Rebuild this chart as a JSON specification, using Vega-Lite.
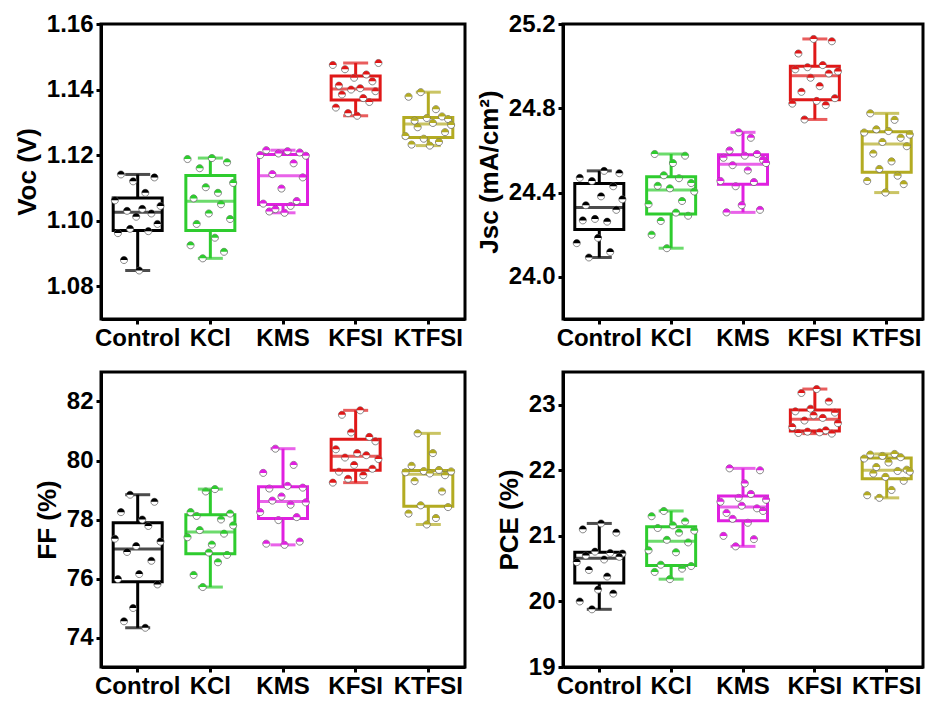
{
"$schema":"https://vega.github.io/schema/vega-lite/v6.json",
"background":"white",
"padding":{"left":12,"top":10,"right":3,"bottom":3},
"config":{
 "view":{"stroke":"black","strokeWidth":3},
 "axis":{"labelFont":"Liberation Sans","labelFontWeight":"bold","labelFontSize":24,"labelColor":"black","titleFont":"Liberation Sans","titleFontWeight":"bold","titleFontSize":26,"titleColor":"black","domainColor":"black","domainWidth":3,"tickColor":"black","tickWidth":3,"tickSize":5,"grid":false,"labelPadding":3},
 "axisX":{"labelAngle":0,"title":null,"labelPadding":2,"labelFlush":false,"labelOverlap":false},
 "axisY":{"titlePadding":6}
},
"datasets":{
"box":[
{"m":"Voc","g":"Control","lo":1.0848,"q1":1.097,"med":1.1026,"q3":1.1069,"hi":1.1141},
{"m":"Voc","g":"KCl","lo":1.0885,"q1":1.097,"med":1.1059,"q3":1.1138,"hi":1.1191},
{"m":"Voc","g":"KMS","lo":1.1024,"q1":1.1049,"med":1.1137,"q3":1.1202,"hi":1.1215},
{"m":"Voc","g":"KFSI","lo":1.132,"q1":1.1368,"med":1.1402,"q3":1.1441,"hi":1.1481},
{"m":"Voc","g":"KTFSI","lo":1.1229,"q1":1.1254,"med":1.1295,"q3":1.1315,"hi":1.1392},
{"m":"Jsc","g":"Control","lo":24.092,"q1":24.225,"med":24.329,"q3":24.443,"hi":24.503},
{"m":"Jsc","g":"KCl","lo":24.136,"q1":24.298,"med":24.412,"q3":24.475,"hi":24.583},
{"m":"Jsc","g":"KMS","lo":24.306,"q1":24.44,"med":24.535,"q3":24.579,"hi":24.686},
{"m":"Jsc","g":"KFSI","lo":24.747,"q1":24.841,"med":24.955,"q3":25.0,"hi":25.129},
{"m":"Jsc","g":"KTFSI","lo":24.4,"q1":24.496,"med":24.63,"q3":24.689,"hi":24.776},
{"m":"FF","g":"Control","lo":74.33,"q1":75.89,"med":77.0,"q3":77.89,"hi":78.84},
{"m":"FF","g":"KCl","lo":75.71,"q1":76.84,"med":77.58,"q3":78.16,"hi":79.03},
{"m":"FF","g":"KMS","lo":77.14,"q1":78.03,"med":78.61,"q3":79.11,"hi":80.4},
{"m":"FF","g":"KFSI","lo":79.25,"q1":79.67,"med":80.14,"q3":80.72,"hi":81.7},
{"m":"FF","g":"KTFSI","lo":77.83,"q1":78.45,"med":79.53,"q3":79.66,"hi":80.92},
{"m":"PCE","g":"Control","lo":19.88,"q1":20.28,"med":20.66,"q3":20.75,"hi":21.19},
{"m":"PCE","g":"KCl","lo":20.34,"q1":20.55,"med":20.92,"q3":21.14,"hi":21.38},
{"m":"PCE","g":"KMS","lo":20.84,"q1":21.23,"med":21.44,"q3":21.61,"hi":22.03},
{"m":"PCE","g":"KFSI","lo":22.56,"q1":22.6,"med":22.78,"q3":22.92,"hi":23.24},
{"m":"PCE","g":"KTFSI","lo":21.58,"q1":21.87,"med":22.0,"q3":22.19,"hi":22.25}
],
"pts":[
{"g":"Control","n":1,"Voc":1.1062,"Jsc":24.160,"FF":77.35,"PCE":20.60},
{"g":"Control","n":2,"Voc":1.0962,"Jsc":24.470,"FF":75.98,"PCE":20.00},
{"g":"Control","n":3,"Voc":1.1141,"Jsc":24.268,"FF":78.25,"PCE":21.10},
{"g":"Control","n":4,"Voc":1.0880,"Jsc":24.340,"FF":74.55,"PCE":20.70},
{"g":"Control","n":5,"Voc":1.1030,"Jsc":24.092,"FF":76.90,"PCE":20.48},
{"g":"Control","n":6,"Voc":1.0975,"Jsc":24.455,"FF":78.84,"PCE":19.88},
{"g":"Control","n":7,"Voc":1.1120,"Jsc":24.275,"FF":75.00,"PCE":20.76},
{"g":"Control","n":8,"Voc":1.1012,"Jsc":24.185,"FF":77.10,"PCE":20.18},
{"g":"Control","n":9,"Voc":1.0848,"Jsc":24.382,"FF":76.15,"PCE":21.19},
{"g":"Control","n":10,"Voc":1.1036,"Jsc":24.503,"FF":78.00,"PCE":20.64},
{"g":"Control","n":11,"Voc":1.1085,"Jsc":24.262,"FF":74.33,"PCE":20.38},
{"g":"Control","n":12,"Voc":1.0968,"Jsc":24.118,"FF":77.78,"PCE":20.74},
{"g":"Control","n":13,"Voc":1.1022,"Jsc":24.430,"FF":76.60,"PCE":20.12},
{"g":"Control","n":14,"Voc":1.1132,"Jsc":24.318,"FF":78.60,"PCE":21.05},
{"g":"Control","n":15,"Voc":1.0990,"Jsc":24.492,"FF":75.80,"PCE":20.68},
{"g":"Control","n":16,"Voc":1.1045,"Jsc":24.368,"FF":77.25,"PCE":20.73},
{"g":"KCl","n":1,"Voc":1.1188,"Jsc":24.345,"FF":77.40,"PCE":20.78},
{"g":"KCl","n":2,"Voc":1.0925,"Jsc":24.200,"FF":78.25,"PCE":21.30},
{"g":"KCl","n":3,"Voc":1.1068,"Jsc":24.583,"FF":76.12,"PCE":20.45},
{"g":"KCl","n":4,"Voc":1.0990,"Jsc":24.432,"FF":78.12,"PCE":21.12},
{"g":"KCl","n":5,"Voc":1.1160,"Jsc":24.265,"FF":77.64,"PCE":20.56},
{"g":"KCl","n":6,"Voc":1.0885,"Jsc":24.482,"FF":75.71,"PCE":21.38},
{"g":"KCl","n":7,"Voc":1.1102,"Jsc":24.136,"FF":78.95,"PCE":20.94},
{"g":"KCl","n":8,"Voc":1.1022,"Jsc":24.420,"FF":76.88,"PCE":20.34},
{"g":"KCl","n":9,"Voc":1.1191,"Jsc":24.540,"FF":77.15,"PCE":21.16},
{"g":"KCl","n":10,"Voc":1.0948,"Jsc":24.305,"FF":79.03,"PCE":20.75},
{"g":"KCl","n":11,"Voc":1.1085,"Jsc":24.468,"FF":76.55,"PCE":21.05},
{"g":"KCl","n":12,"Voc":1.1050,"Jsc":24.360,"FF":78.00,"PCE":20.50},
{"g":"KCl","n":13,"Voc":1.0905,"Jsc":24.575,"FF":77.52,"PCE":21.22},
{"g":"KCl","n":14,"Voc":1.1178,"Jsc":24.290,"FF":76.80,"PCE":20.90},
{"g":"KCl","n":15,"Voc":1.1005,"Jsc":24.445,"FF":78.20,"PCE":20.54},
{"g":"KCl","n":16,"Voc":1.1115,"Jsc":24.405,"FF":77.80,"PCE":21.08},
{"g":"KMS","n":1,"Voc":1.1200,"Jsc":24.455,"FF":78.25,"PCE":21.52},
{"g":"KMS","n":2,"Voc":1.1052,"Jsc":24.565,"FF":79.58,"PCE":21.00},
{"g":"KMS","n":3,"Voc":1.1215,"Jsc":24.306,"FF":77.18,"PCE":21.35},
{"g":"KMS","n":4,"Voc":1.1028,"Jsc":24.600,"FF":79.05,"PCE":22.03},
{"g":"KMS","n":5,"Voc":1.1142,"Jsc":24.530,"FF":78.64,"PCE":21.26},
{"g":"KMS","n":6,"Voc":1.1035,"Jsc":24.430,"FF":80.40,"PCE":20.84},
{"g":"KMS","n":7,"Voc":1.1205,"Jsc":24.686,"FF":77.98,"PCE":21.58},
{"g":"KMS","n":8,"Voc":1.1098,"Jsc":24.340,"FF":78.78,"PCE":21.46},
{"g":"KMS","n":9,"Voc":1.1024,"Jsc":24.575,"FF":77.14,"PCE":21.80},
{"g":"KMS","n":10,"Voc":1.1212,"Jsc":24.505,"FF":79.14,"PCE":21.20},
{"g":"KMS","n":11,"Voc":1.1045,"Jsc":24.660,"FF":78.50,"PCE":21.64},
{"g":"KMS","n":12,"Voc":1.1175,"Jsc":24.450,"FF":79.85,"PCE":20.95},
{"g":"KMS","n":13,"Voc":1.1060,"Jsc":24.583,"FF":78.08,"PCE":21.42},
{"g":"KMS","n":14,"Voc":1.1208,"Jsc":24.318,"FF":77.25,"PCE":22.00},
{"g":"KMS","n":15,"Voc":1.1132,"Jsc":24.555,"FF":79.08,"PCE":21.38},
{"g":"KMS","n":16,"Voc":1.1198,"Jsc":24.540,"FF":78.58,"PCE":21.55},
{"g":"KFSI","n":1,"Voc":1.1475,"Jsc":24.822,"FF":79.25,"PCE":22.66},
{"g":"KFSI","n":2,"Voc":1.1345,"Jsc":24.985,"FF":80.38,"PCE":22.90},
{"g":"KFSI","n":3,"Voc":1.1412,"Jsc":25.060,"FF":79.62,"PCE":22.57},
{"g":"KFSI","n":4,"Voc":1.1385,"Jsc":24.878,"FF":81.55,"PCE":23.18},
{"g":"KFSI","n":5,"Voc":1.1462,"Jsc":24.747,"FF":80.10,"PCE":22.76},
{"g":"KFSI","n":6,"Voc":1.1328,"Jsc":24.995,"FF":79.38,"PCE":22.59},
{"g":"KFSI","n":7,"Voc":1.1400,"Jsc":24.945,"FF":80.95,"PCE":22.94},
{"g":"KFSI","n":8,"Voc":1.1436,"Jsc":25.129,"FF":79.85,"PCE":22.84},
{"g":"KFSI","n":9,"Voc":1.1320,"Jsc":24.835,"FF":80.25,"PCE":23.24},
{"g":"KFSI","n":10,"Voc":1.1404,"Jsc":24.905,"FF":81.70,"PCE":22.58},
{"g":"KFSI","n":11,"Voc":1.1374,"Jsc":25.005,"FF":79.50,"PCE":22.80},
{"g":"KFSI","n":12,"Voc":1.1446,"Jsc":24.815,"FF":80.18,"PCE":22.61},
{"g":"KFSI","n":13,"Voc":1.1362,"Jsc":24.965,"FF":80.80,"PCE":23.05},
{"g":"KFSI","n":14,"Voc":1.1425,"Jsc":25.118,"FF":79.72,"PCE":22.56},
{"g":"KFSI","n":15,"Voc":1.1395,"Jsc":24.848,"FF":80.65,"PCE":22.88},
{"g":"KFSI","n":16,"Voc":1.1481,"Jsc":24.975,"FF":80.05,"PCE":22.72},
{"g":"KTFSI","n":1,"Voc":1.1258,"Jsc":24.685,"FF":79.60,"PCE":22.18},
{"g":"KTFSI","n":2,"Voc":1.1378,"Jsc":24.455,"FF":78.20,"PCE":21.62},
{"g":"KTFSI","n":3,"Voc":1.1232,"Jsc":24.776,"FF":79.82,"PCE":22.24},
{"g":"KTFSI","n":4,"Voc":1.1305,"Jsc":24.585,"FF":79.30,"PCE":21.95},
{"g":"KTFSI","n":5,"Voc":1.1285,"Jsc":24.700,"FF":80.92,"PCE":22.05},
{"g":"KTFSI","n":6,"Voc":1.1392,"Jsc":24.512,"FF":78.48,"PCE":21.58},
{"g":"KTFSI","n":7,"Voc":1.1250,"Jsc":24.640,"FF":79.64,"PCE":22.22},
{"g":"KTFSI","n":8,"Voc":1.1313,"Jsc":24.400,"FF":77.83,"PCE":21.90},
{"g":"KTFSI","n":9,"Voc":1.1229,"Jsc":24.692,"FF":79.56,"PCE":22.12},
{"g":"KTFSI","n":10,"Voc":1.1298,"Jsc":24.548,"FF":80.25,"PCE":21.70},
{"g":"KTFSI","n":11,"Voc":1.1340,"Jsc":24.745,"FF":78.05,"PCE":22.25},
{"g":"KTFSI","n":12,"Voc":1.1240,"Jsc":24.480,"FF":79.68,"PCE":21.99},
{"g":"KTFSI","n":13,"Voc":1.1318,"Jsc":24.660,"FF":78.95,"PCE":22.20},
{"g":"KTFSI","n":14,"Voc":1.1270,"Jsc":24.440,"FF":79.50,"PCE":21.84},
{"g":"KTFSI","n":15,"Voc":1.1310,"Jsc":24.620,"FF":78.42,"PCE":22.01},
{"g":"KTFSI","n":16,"Voc":1.1292,"Jsc":24.675,"FF":79.63,"PCE":21.98}
]
},
"columns":2,
"spacing":{"row":18,"column":7},
"concat":[
{"width":364,"height":295,
 "encoding":{"x":{"field":"g","type":"nominal","scale":{"type":"band","domain":["Control","KCl","KMS","KFSI","KTFSI"],"paddingInner":0.33,"paddingOuter":0.17}}},
 "layer":[
  {"data":{"name":"box"},"transform":[{"filter":"datum.m==='Voc'"}],"mark":{"type":"rule","strokeWidth":3},
   "encoding":{"y":{"field":"lo","type":"quantitative","scale":{"domain":[1.07,1.16],"nice":false,"zero":false},"axis":{"title":"Voc (V)","values":[1.08,1.10,1.12,1.14,1.16],"format":".2f"}},"y2":{"field":"hi"},
   "color":{"field":"g","type":"nominal","scale":{"domain":["Control","KCl","KMS","KFSI","KTFSI"],"range":["#000000","#2ecc2e","#e020e0","#e01818","#b3ab22"]},"legend":null}}},
  {"data":{"name":"box"},"transform":[{"filter":"datum.m==='Voc'"}],"mark":{"type":"bar","fill":"white","strokeWidth":3,"width":49},
   "encoding":{"y":{"field":"q1","type":"quantitative","scale":{"domain":[1.07,1.16],"nice":false,"zero":false}},"y2":{"field":"q3"},
   "stroke":{"field":"g","type":"nominal","scale":{"domain":["Control","KCl","KMS","KFSI","KTFSI"],"range":["#000000","#2ecc2e","#e020e0","#e01818","#b3ab22"]},"legend":null}}},
  {"data":{"name":"box"},"transform":[{"filter":"datum.m==='Voc'"}],"mark":{"type":"tick","thickness":3,"size":25},
   "encoding":{"y":{"field":"lo","type":"quantitative","scale":{"domain":[1.07,1.16],"nice":false,"zero":false}},"color":{"field":"g","type":"nominal","legend":null}}},
  {"data":{"name":"box"},"transform":[{"filter":"datum.m==='Voc'"}],"mark":{"type":"tick","thickness":3,"size":25},
   "encoding":{"y":{"field":"hi","type":"quantitative","scale":{"domain":[1.07,1.16],"nice":false,"zero":false}},"color":{"field":"g","type":"nominal","legend":null}}},
  {"data":{"name":"box"},"transform":[{"filter":"datum.m==='Voc'"}],"mark":{"type":"tick","thickness":3,"size":49},
   "encoding":{"y":{"field":"med","type":"quantitative","scale":{"domain":[1.07,1.16],"nice":false,"zero":false}},"color":{"field":"g","type":"nominal","legend":null}}},
  {"data":{"name":"pts"},"mark":{"type":"point","shape":"M-1,0A1,1,0,1,1,1,0A1,1,0,1,1,-1,0Z","filled":true,"fill":"white","stroke":"#555555","strokeWidth":0.7,"size":50,"opacity":1},
   "encoding":{"xOffset":{"field":"n","type":"ordinal"},"y":{"field":"Voc","type":"quantitative","scale":{"domain":[1.07,1.16],"nice":false,"zero":false}}}},
  {"data":{"name":"pts"},"mark":{"type":"point","shape":"M-1,0A1,1,0,0,1,1,0Z","filled":true,"size":50,"opacity":1,"strokeWidth":0},
   "encoding":{"xOffset":{"field":"n","type":"ordinal"},"y":{"field":"Voc","type":"quantitative","scale":{"domain":[1.07,1.16],"nice":false,"zero":false}},"color":{"field":"g","type":"nominal","legend":null}}}
 ]},
{"width":360,"height":295,
 "encoding":{"x":{"field":"g","type":"nominal","scale":{"type":"band","domain":["Control","KCl","KMS","KFSI","KTFSI"],"paddingInner":0.33,"paddingOuter":0.17}}},
 "layer":[
  {"data":{"name":"box"},"transform":[{"filter":"datum.m==='Jsc'"}],"mark":{"type":"rule","strokeWidth":3},
   "encoding":{"y":{"field":"lo","type":"quantitative","scale":{"domain":[23.8,25.2],"nice":false,"zero":false},"axis":{"title":"Jsc (mA/cm²)","values":[24.0,24.4,24.8,25.2],"format":".1f"}},"y2":{"field":"hi"},
   "color":{"field":"g","type":"nominal","scale":{"domain":["Control","KCl","KMS","KFSI","KTFSI"],"range":["#000000","#2ecc2e","#e020e0","#e01818","#b3ab22"]},"legend":null}}},
  {"data":{"name":"box"},"transform":[{"filter":"datum.m==='Jsc'"}],"mark":{"type":"bar","fill":"white","strokeWidth":3,"width":49},
   "encoding":{"y":{"field":"q1","type":"quantitative","scale":{"domain":[23.8,25.2],"nice":false,"zero":false}},"y2":{"field":"q3"},
   "stroke":{"field":"g","type":"nominal","scale":{"domain":["Control","KCl","KMS","KFSI","KTFSI"],"range":["#000000","#2ecc2e","#e020e0","#e01818","#b3ab22"]},"legend":null}}},
  {"data":{"name":"box"},"transform":[{"filter":"datum.m==='Jsc'"}],"mark":{"type":"tick","thickness":3,"size":25},
   "encoding":{"y":{"field":"lo","type":"quantitative","scale":{"domain":[23.8,25.2],"nice":false,"zero":false}},"color":{"field":"g","type":"nominal","legend":null}}},
  {"data":{"name":"box"},"transform":[{"filter":"datum.m==='Jsc'"}],"mark":{"type":"tick","thickness":3,"size":25},
   "encoding":{"y":{"field":"hi","type":"quantitative","scale":{"domain":[23.8,25.2],"nice":false,"zero":false}},"color":{"field":"g","type":"nominal","legend":null}}},
  {"data":{"name":"box"},"transform":[{"filter":"datum.m==='Jsc'"}],"mark":{"type":"tick","thickness":3,"size":49},
   "encoding":{"y":{"field":"med","type":"quantitative","scale":{"domain":[23.8,25.2],"nice":false,"zero":false}},"color":{"field":"g","type":"nominal","legend":null}}},
  {"data":{"name":"pts"},"mark":{"type":"point","shape":"M-1,0A1,1,0,1,1,1,0A1,1,0,1,1,-1,0Z","filled":true,"fill":"white","stroke":"#555555","strokeWidth":0.7,"size":50,"opacity":1},
   "encoding":{"xOffset":{"field":"n","type":"ordinal"},"y":{"field":"Jsc","type":"quantitative","scale":{"domain":[23.8,25.2],"nice":false,"zero":false}}}},
  {"data":{"name":"pts"},"mark":{"type":"point","shape":"M-1,0A1,1,0,0,1,1,0Z","filled":true,"size":50,"opacity":1,"strokeWidth":0},
   "encoding":{"xOffset":{"field":"n","type":"ordinal"},"y":{"field":"Jsc","type":"quantitative","scale":{"domain":[23.8,25.2],"nice":false,"zero":false}},"color":{"field":"g","type":"nominal","legend":null}}}
 ]},
{"width":364,"height":295,
 "encoding":{"x":{"field":"g","type":"nominal","scale":{"type":"band","domain":["Control","KCl","KMS","KFSI","KTFSI"],"paddingInner":0.33,"paddingOuter":0.17}}},
 "layer":[
  {"data":{"name":"box"},"transform":[{"filter":"datum.m==='FF'"}],"mark":{"type":"rule","strokeWidth":3},
   "encoding":{"y":{"field":"lo","type":"quantitative","scale":{"domain":[73,83],"nice":false,"zero":false},"axis":{"title":"FF (%)","values":[74,76,78,80,82],"format":"d"}},"y2":{"field":"hi"},
   "color":{"field":"g","type":"nominal","scale":{"domain":["Control","KCl","KMS","KFSI","KTFSI"],"range":["#000000","#2ecc2e","#e020e0","#e01818","#b3ab22"]},"legend":null}}},
  {"data":{"name":"box"},"transform":[{"filter":"datum.m==='FF'"}],"mark":{"type":"bar","fill":"white","strokeWidth":3,"width":49},
   "encoding":{"y":{"field":"q1","type":"quantitative","scale":{"domain":[73,83],"nice":false,"zero":false}},"y2":{"field":"q3"},
   "stroke":{"field":"g","type":"nominal","scale":{"domain":["Control","KCl","KMS","KFSI","KTFSI"],"range":["#000000","#2ecc2e","#e020e0","#e01818","#b3ab22"]},"legend":null}}},
  {"data":{"name":"box"},"transform":[{"filter":"datum.m==='FF'"}],"mark":{"type":"tick","thickness":3,"size":25},
   "encoding":{"y":{"field":"lo","type":"quantitative","scale":{"domain":[73,83],"nice":false,"zero":false}},"color":{"field":"g","type":"nominal","legend":null}}},
  {"data":{"name":"box"},"transform":[{"filter":"datum.m==='FF'"}],"mark":{"type":"tick","thickness":3,"size":25},
   "encoding":{"y":{"field":"hi","type":"quantitative","scale":{"domain":[73,83],"nice":false,"zero":false}},"color":{"field":"g","type":"nominal","legend":null}}},
  {"data":{"name":"box"},"transform":[{"filter":"datum.m==='FF'"}],"mark":{"type":"tick","thickness":3,"size":49},
   "encoding":{"y":{"field":"med","type":"quantitative","scale":{"domain":[73,83],"nice":false,"zero":false}},"color":{"field":"g","type":"nominal","legend":null}}},
  {"data":{"name":"pts"},"mark":{"type":"point","shape":"M-1,0A1,1,0,1,1,1,0A1,1,0,1,1,-1,0Z","filled":true,"fill":"white","stroke":"#555555","strokeWidth":0.7,"size":50,"opacity":1},
   "encoding":{"xOffset":{"field":"n","type":"ordinal"},"y":{"field":"FF","type":"quantitative","scale":{"domain":[73,83],"nice":false,"zero":false}}}},
  {"data":{"name":"pts"},"mark":{"type":"point","shape":"M-1,0A1,1,0,0,1,1,0Z","filled":true,"size":50,"opacity":1,"strokeWidth":0},
   "encoding":{"xOffset":{"field":"n","type":"ordinal"},"y":{"field":"FF","type":"quantitative","scale":{"domain":[73,83],"nice":false,"zero":false}},"color":{"field":"g","type":"nominal","legend":null}}}
 ]},
{"width":360,"height":295,
 "encoding":{"x":{"field":"g","type":"nominal","scale":{"type":"band","domain":["Control","KCl","KMS","KFSI","KTFSI"],"paddingInner":0.33,"paddingOuter":0.17}}},
 "layer":[
  {"data":{"name":"box"},"transform":[{"filter":"datum.m==='PCE'"}],"mark":{"type":"rule","strokeWidth":3},
   "encoding":{"y":{"field":"lo","type":"quantitative","scale":{"domain":[19,23.5],"nice":false,"zero":false},"axis":{"title":"PCE (%)","values":[19,20,21,22,23],"format":"d"}},"y2":{"field":"hi"},
   "color":{"field":"g","type":"nominal","scale":{"domain":["Control","KCl","KMS","KFSI","KTFSI"],"range":["#000000","#2ecc2e","#e020e0","#e01818","#b3ab22"]},"legend":null}}},
  {"data":{"name":"box"},"transform":[{"filter":"datum.m==='PCE'"}],"mark":{"type":"bar","fill":"white","strokeWidth":3,"width":49},
   "encoding":{"y":{"field":"q1","type":"quantitative","scale":{"domain":[19,23.5],"nice":false,"zero":false}},"y2":{"field":"q3"},
   "stroke":{"field":"g","type":"nominal","scale":{"domain":["Control","KCl","KMS","KFSI","KTFSI"],"range":["#000000","#2ecc2e","#e020e0","#e01818","#b3ab22"]},"legend":null}}},
  {"data":{"name":"box"},"transform":[{"filter":"datum.m==='PCE'"}],"mark":{"type":"tick","thickness":3,"size":25},
   "encoding":{"y":{"field":"lo","type":"quantitative","scale":{"domain":[19,23.5],"nice":false,"zero":false}},"color":{"field":"g","type":"nominal","legend":null}}},
  {"data":{"name":"box"},"transform":[{"filter":"datum.m==='PCE'"}],"mark":{"type":"tick","thickness":3,"size":25},
   "encoding":{"y":{"field":"hi","type":"quantitative","scale":{"domain":[19,23.5],"nice":false,"zero":false}},"color":{"field":"g","type":"nominal","legend":null}}},
  {"data":{"name":"box"},"transform":[{"filter":"datum.m==='PCE'"}],"mark":{"type":"tick","thickness":3,"size":49},
   "encoding":{"y":{"field":"med","type":"quantitative","scale":{"domain":[19,23.5],"nice":false,"zero":false}},"color":{"field":"g","type":"nominal","legend":null}}},
  {"data":{"name":"pts"},"mark":{"type":"point","shape":"M-1,0A1,1,0,1,1,1,0A1,1,0,1,1,-1,0Z","filled":true,"fill":"white","stroke":"#555555","strokeWidth":0.7,"size":50,"opacity":1},
   "encoding":{"xOffset":{"field":"n","type":"ordinal"},"y":{"field":"PCE","type":"quantitative","scale":{"domain":[19,23.5],"nice":false,"zero":false}}}},
  {"data":{"name":"pts"},"mark":{"type":"point","shape":"M-1,0A1,1,0,0,1,1,0Z","filled":true,"size":50,"opacity":1,"strokeWidth":0},
   "encoding":{"xOffset":{"field":"n","type":"ordinal"},"y":{"field":"PCE","type":"quantitative","scale":{"domain":[19,23.5],"nice":false,"zero":false}},"color":{"field":"g","type":"nominal","legend":null}}}
 ]}
]
}
